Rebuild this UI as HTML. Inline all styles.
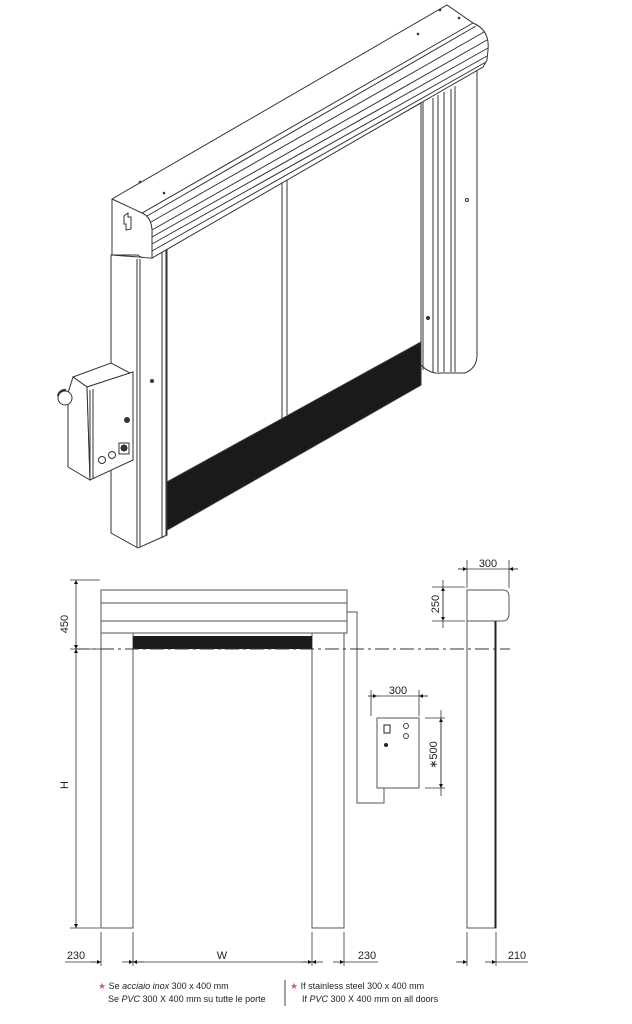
<!DOCTYPE html>
<html><head><meta charset="utf-8"><style>
html,body{margin:0;padding:0;background:#fff;}
svg{display:block;}
text{font-family:"Liberation Sans",sans-serif;fill:#222;}
</style></head><body>
<svg width="632" height="1024" viewBox="0 0 632 1024" xmlns="http://www.w3.org/2000/svg">
<defs>
<marker id="a" viewBox="0 0 10 10" refX="10" refY="5" markerWidth="9" markerHeight="5" orient="auto-start-reverse"><path d="M0,0L10,5L0,10z" fill="#111"/></marker>
</defs>
<g fill="none" stroke="#333" stroke-width="1">
<!-- right post -->
<path d="M421,102 L421,365 Q430,374 440,373 L465,373 Q477,368 477,355 L477,70" fill="#fff"/>
<path d="M423,102V370M433,98V372M438,95V372M444,92V372M451,89V372M455,86V372"/>
<circle cx="467" cy="200" r="1.5"/><circle cx="428" cy="318" r="1.5" fill="#333"/>
<!-- curtain -->
<path d="M167,247 L421,103 L421,385 L167,530Z" fill="#fff"/>
<path d="M167,482 L421,342 L421,385 L167,530Z" fill="#1a1a1a"/>
<path d="M282,183 L282,418 M287,180 L287,415"/>
<!-- left post -->
<path d="M111,255 L111,533 L138,548 L167,535 L167,247 L152,258Z" fill="#fff"/>
<path d="M137,259V547M140,259V547M162,250V538M166,248V536"/>
<circle cx="152" cy="381" r="1.5" fill="#333"/>
<!-- top box -->
<path d="M112,199 L447,5 L473,23 Q490,30 488,50 L487,60 L483,67 L152,258 Q140,258 138,255 L112,255Z" fill="#fff"/>
<path d="M112,199 L142,213 L473,23"/>
<path d="M142,213 Q153,218 152,235 L152,258"/>
<path d="M147,216 L476,26 M151,222 L484,32 M152,230 L487,40 M152,237 L488,48 M152,244 L487,56 M152,251 L486,62"/>
<path d="M124,216 l4,-3 v4 l3,0 v12 l-5,1 v-6 l-2,0z"/>
<circle cx="140" cy="182" r="0.8" fill="#333"/><circle cx="164" cy="193" r="0.8" fill="#333"/>
<circle cx="418" cy="34" r="0.8" fill="#333"/><circle cx="440" cy="10" r="0.8" fill="#333"/><circle cx="459" cy="18" r="0.8" fill="#333"/>
<!-- control box -->
<path d="M73,377 L111,363 L130,373 L87,387Z" fill="#fff"/>
<path d="M68,393 L73,377 L87,387 L90,480 L68,467Z" fill="#fff"/>
<path d="M87,387 L133,372 L133,460 L90,480Z" fill="#fff"/>
<path d="M90,390 L90,480 M93,389 L93,479"/>
<circle cx="65" cy="398" r="7" fill="#fff"/>
<path d="M58,396 a7,7 0 0 1 8,-6" stroke-width="2"/>
<circle cx="127" cy="420" r="2.5" fill="#333"/>
<circle cx="102" cy="460" r="3.5"/><circle cx="112" cy="455" r="3.5"/>
<rect x="119" y="443" width="10" height="11"/><circle cx="124" cy="448" r="3" fill="#333"/>
</g>
<!-- ORTHO -->
<g fill="none" stroke="#555" stroke-width="1">
<path d="M101,590H347V633H101Z"/>
<path d="M101,603H347M101,621H347"/>
<path d="M101,633V928H133V633M312,633V928H344V633"/>
<path d="M347,612H357V803H384V788"/>
<rect x="377" y="718" width="42" height="70"/>
<path d="M467,590H503Q509,590 509,597V613Q509,621 503,621H467Z"/>
<path d="M467,621V928H496V621"/>
</g>
<rect x="133" y="636" width="179" height="13" fill="#1a1a1a"/>
<line x1="495.5" y1="621" x2="495.5" y2="928" stroke="#222" stroke-width="2"/>
<line x1="75" y1="649" x2="510" y2="649" stroke="#333" stroke-dasharray="14,4,3,4"/>
<rect x="384" y="725" width="6" height="8" fill="#fff" stroke="#222"/>
<circle cx="386" cy="745" r="2" fill="#222"/>
<circle cx="406" cy="726" r="2.5" fill="none" stroke="#444"/>
<circle cx="406" cy="736" r="2.5" fill="none" stroke="#444"/>
<!-- dimensions -->
<g stroke="#333" stroke-width="0.8" fill="none">
<path d="M70,580H100M70,649H100M70,928H100"/>
<line x1="76" y1="580" x2="76" y2="649" marker-start="url(#a)" marker-end="url(#a)"/>
<line x1="76" y1="649" x2="76" y2="928" marker-start="url(#a)" marker-end="url(#a)"/>
<path d="M101,932V966M133,932V966M312,932V966M344,932V966M467,932V966M496,932V966"/>
<path d="M65,962H101M133,962H312M344,962H378M458,962H467M496,962H528"/>
<line x1="90" y1="962" x2="101" y2="962" marker-end="url(#a)"/>
<line x1="144" y1="962" x2="133" y2="962" marker-end="url(#a)"/>
<line x1="122" y1="962" x2="133" y2="962" marker-end="url(#a)"/>
<line x1="301" y1="962" x2="312" y2="962" marker-end="url(#a)"/>
<line x1="323" y1="962" x2="312" y2="962" marker-end="url(#a)"/>
<line x1="333" y1="962" x2="344" y2="962" marker-end="url(#a)"/>
<line x1="456" y1="962" x2="467" y2="962" marker-end="url(#a)"/>
<line x1="485" y1="962" x2="496" y2="962" marker-end="url(#a)"/>
<path d="M467,560V588M509,560V588M371,690V716M419,690V716M432,587H465M432,621H465M425,718H445M425,788H445"/>
<line x1="458" y1="569" x2="518" y2="569"/>
<line x1="458" y1="569" x2="467" y2="569" marker-end="url(#a)"/>
<line x1="518" y1="569" x2="509" y2="569" marker-end="url(#a)"/>
<line x1="443" y1="587" x2="443" y2="621" marker-start="url(#a)" marker-end="url(#a)"/>
<line x1="443" y1="580" x2="443" y2="628"/>
<line x1="369" y1="696" x2="427" y2="696"/>
<line x1="368" y1="696" x2="377" y2="696" marker-end="url(#a)"/>
<line x1="428" y1="696" x2="419" y2="696" marker-end="url(#a)"/>
<line x1="441" y1="710" x2="441" y2="796"/>
<line x1="441" y1="718" x2="441" y2="788" marker-start="url(#a)" marker-end="url(#a)"/>
</g>
<g font-size="11">
<text x="68" y="624" transform="rotate(-90 68 624)" text-anchor="middle">450</text>
<text x="72" y="789" transform="rotate(-90 68 789)" text-anchor="middle">H</text>
<text x="76" y="959" text-anchor="middle">230</text>
<text x="222" y="959" text-anchor="middle">W</text>
<text x="367" y="959" text-anchor="middle">230</text>
<text x="517" y="959" text-anchor="middle">210</text>
<text x="488" y="567" text-anchor="middle">300</text>
<text x="398" y="694" text-anchor="middle">300</text>
<text x="439" y="604" transform="rotate(-90 439 604)" text-anchor="middle">250</text>
<text x="437" y="755" transform="rotate(-90 437 755)" text-anchor="middle">∗500</text>
</g>
<g font-size="9">
<text x="98" y="989"><tspan fill="#e05a5a">★</tspan> Se <tspan font-style="italic">acciaio inox</tspan> 300 x 400 mm</text>
<text x="108" y="1002">Se <tspan font-style="italic">PVC</tspan> 300 X 400 mm su tutte le porte</text>
<text x="290" y="989"><tspan fill="#e05a5a">★</tspan> If stainless steel 300 x 400 mm</text>
<text x="302" y="1002">If <tspan font-style="italic">PVC</tspan> 300 X 400 mm on all doors</text>
</g>
<line x1="285" y1="980" x2="285" y2="1006" stroke="#444"/>
</svg>
</body></html>
